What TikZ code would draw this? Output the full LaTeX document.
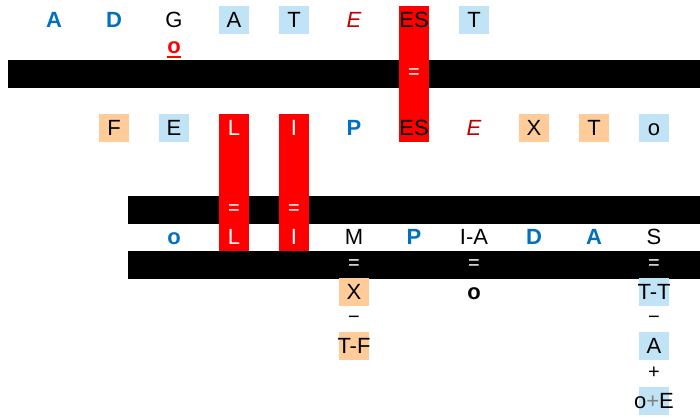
\documentclass[tikz,border=0pt]{standalone}
\usepackage{fontspec}
\setmainfont{Liberation Sans}
\definecolor{wordblue}{HTML}{0070C0}
\definecolor{darkred}{HTML}{C00000}
\definecolor{paleblue}{HTML}{C0E4F5}
\definecolor{peachy}{HTML}{FFCC99}
\begin{document}
\begin{tikzpicture}[x=1pt,y=-1pt,
  cell/.style={minimum width=30pt,minimum height=28pt,inner sep=0pt,
    text height=15.8pt,text depth=0pt,font=\fontsize{22}{26}\selectfont},
  plain/.style={cell},
  pale/.style={cell,fill=paleblue},
  peach/.style={cell,fill=peachy},
  redtxt/.style={cell,text=white},
  bluetxt/.style={cell,text=wordblue,font=\fontsize{22}{26}\selectfont\bfseries},
  itred/.style={cell,text=darkred,font=\fontsize{22}{26}\selectfont\itshape},
  eqsign/.style={inner sep=0pt,text=white,font=\fontsize{20}{22}\selectfont},
  opsign/.style={inner sep=0pt,font=\fontsize{20}{22}\selectfont}]
\useasboundingbox (0,0) rectangle (700,416);

\fill (8,60) rectangle (700,88);
\fill (128,196) rectangle (700,224);
\fill (128,251) rectangle (700,279);
\fill[red] (399,6) rectangle (429,142);
\fill[red] (219,114) rectangle (249,251);
\fill[red] (279,114) rectangle (309,251);

\foreach \k/\s/\t in {0/bluetxt/A,1/bluetxt/D,2/plain/G,3/pale/A,4/pale/T,
    5/itred/E,6/plain/ES,7/pale/T}
  \node[\s] (top\k) at (54+60*\k,20) {\t};
\node[inner sep=0pt,anchor=base,text=red,font=\fontsize{22}{26}\selectfont\bfseries]
  (ul) at (174,53) {o\llap{\rule[-5pt]{14pt}{2pt}}};

\foreach \k/\s/\t in {1/peach/F,2/pale/E,3/redtxt/L,4/redtxt/I,5/bluetxt/P,
    6/plain/ES,7/itred/E,8/peach/X,9/peach/T,10/pale/o}
  \node[\s] (mid\k) at (54+60*\k,128) {\t};

\foreach \k/\s/\t in {2/bluetxt/o,3/redtxt/L,4/redtxt/I,5/plain/M,6/bluetxt/P,
    7/plain/I-A,8/bluetxt/D,9/bluetxt/A,10/plain/S}
  \node[\s] (low\k) at (54+60*\k,237) {\t};

\node[eqsign] (eqa) at (414,74) {=};
\node[eqsign] (eqb) at (234,210) {=};
\node[eqsign] (eqc) at (294,210) {=};
\node[eqsign] (eqd) at (354,265) {=};
\node[eqsign] (eqe) at (474,265) {=};
\node[eqsign] (eqf) at (654,265) {=};

\node[peach] (x) at (354,292) {X};
\node[opsign] (minA) at (354,320) {−};
\node[peach] (tf) at (354,346) {\makebox[30pt]{T-F}};
\node[cell,font=\fontsize{22}{26}\selectfont\bfseries] (o) at (474,292) {o};
\node[pale] (tt) at (654,292) {\makebox[30pt]{T-T}};
\node[opsign] (minB) at (654,320) {−};
\node[pale] (a) at (654,346) {A};
\node[opsign] (plus) at (654,373) {+};
\node[pale] (oe) at (654,401) {\makebox[30pt]{o{\color{gray}+}E}};
\end{tikzpicture}
\end{document}
